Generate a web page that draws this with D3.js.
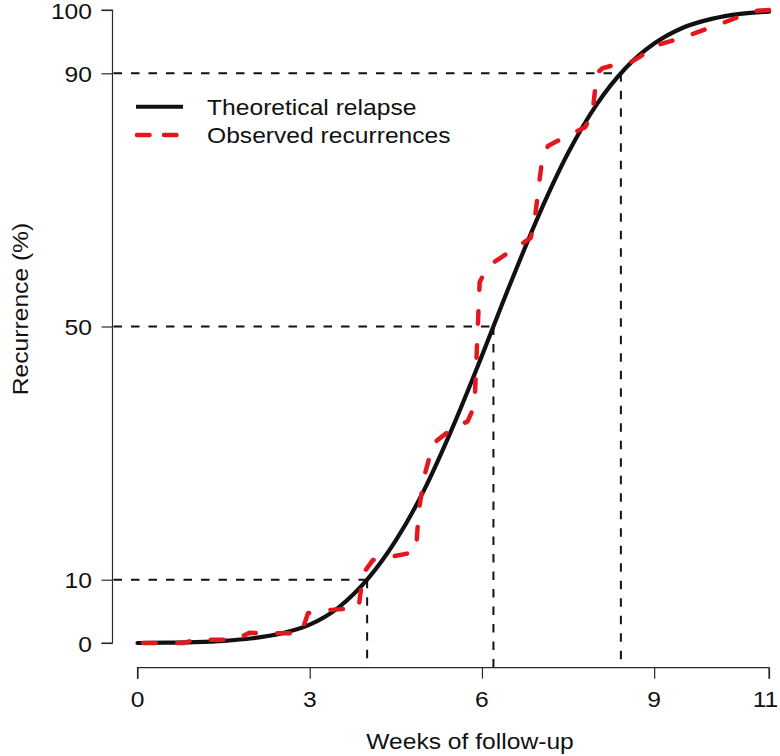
<!DOCTYPE html>
<html>
<head>
<meta charset="utf-8">
<script src="https://cdn.jsdelivr.net/npm/d3@7"></script>
<style>
  html, body { margin: 0; padding: 0; background: #fff; }
  svg { display: block; }
  text { font-family: "Liberation Sans", Arial, Helvetica, sans-serif; font-size: 22px; fill: #111; }
</style>
</head>
<body>
<svg id="chart" width="780" height="756"></svg>
<script>
// ---- data ----
const theoWeeks = [0, 0.5, 1, 1.5, 2, 2.5, 3, 3.5, 4, 4.5, 5, 5.5, 6, 6.5, 7, 7.5, 8, 8.5, 9, 9.5, 10, 10.5, 11];
const theoPct   = [0, 0.05, 0.15, 0.35, 0.75, 1.5, 2.9, 5.6, 10.0, 16.2, 24.3, 34.3, 45.4, 56.9, 67.8, 77.4, 85.1, 90.8, 94.7, 97.2, 98.6, 99.4, 99.75];

const obsWeeks = [0.1, 0.8, 1.0, 1.7, 1.95, 2.85, 2.97, 3.3, 3.85, 3.93, 4.1, 4.4, 4.85, 4.9, 5.0, 5.15, 5.5, 5.75, 5.87, 5.96, 6.1, 6.35, 6.85, 6.92, 7.05, 7.15, 7.35, 7.8, 7.93, 8.0, 8.1, 8.3, 8.6, 8.75, 9.0, 9.4, 9.7, 10.0, 10.3, 10.55, 10.8, 11.0];
const obsPct   = [0, 0, 0.5, 0.5, 1.6, 1.5, 4.7, 5.2, 5.5, 11.0, 13.1, 13.6, 14.4, 21.0, 26.5, 31.5, 34.0, 35.0, 37.5, 57.0, 59.5, 61.0, 64.0, 67.0, 76.5, 78.5, 79.5, 81.5, 84.0, 90.0, 90.8, 91.3, 91.8, 92.6, 94.3, 95.4, 96.3, 97.3, 98.3, 99.2, 99.9, 100];

const xTicks = [0, 3, 6, 9, 11];
const yTicks = [0, 10, 50, 90, 100];
const refPct   = [10, 50, 90];
const refWeeks = [4.0, 6.2, 8.42];

const legendLabels = ["Theoretical relapse", "Observed recurrences"];
const xTitle = "Weeks of follow-up";
const yTitle = "Recurrence (%)";

// ---- drawing ----
const svg = d3.select("#chart");
const x = d3.scaleLinear().domain([0, 11]).range([137.5, 769]);
const y = d3.scaleLinear().domain([0, 100]).range([643, 10]);
const axisX = 112.5, axisY = 667.7;
const red = "#e3171d";
const SX = 1.12;

function label(px, py, str, anchor, rot) {
  svg.append("g")
    .attr("transform", `translate(${px},${py}) rotate(${rot || 0}) scale(${SX},1)`)
    .append("text")
    .attr("text-anchor", anchor)
    .text(str);
}

// axes
const yAxis = d3.axisLeft(y).tickValues(yTicks).tickSize(11).tickFormat("");
svg.append("g").attr("transform", `translate(${axisX},0)`).call(yAxis)
  .call(g => { g.select(".domain").attr("d", `M-11,${y(100)}H0V${y(0)}H-11`); });
const xAxis = d3.axisBottom(x).tickValues(xTicks).tickSize(11).tickFormat("");
svg.append("g").attr("transform", `translate(0,${axisY})`).call(xAxis)
  .call(g => { g.select(".domain").attr("d", `M${x(0)},11V0H${x(11)}V11`); });
svg.selectAll(".domain, .tick line").attr("stroke", "#2a2a2a").attr("stroke-width", 1.2);

yTicks.forEach(v => label(92, y(v) + 8.6, String(v), "end"));
xTicks.forEach(v => label(Math.min(x(v), 765.5), 706.7, String(v), "middle"));
label(470, 749, xTitle, "middle");
label(28.3, 309, yTitle, "middle", -90);

// reference lines
const refG = svg.append("g").attr("stroke", "#111").attr("stroke-width", 2)
  .attr("stroke-dasharray", "8.5 9").attr("fill", "none");
refPct.forEach((p, i) => {
  refG.append("line").attr("x1", axisX + 1).attr("x2", x(refWeeks[i]))
    .attr("y1", y(p)).attr("y2", y(p));
  refG.append("line").attr("x1", x(refWeeks[i])).attr("x2", x(refWeeks[i]))
    .attr("y1", y(p)).attr("y2", axisY);
});

// theoretical curve
const theo = theoWeeks.map((w, i) => [w, theoPct[i]]);
svg.append("path").datum(theo)
  .attr("d", d3.line().x(d => x(d[0])).y(d => y(d[1])).curve(d3.curveMonotoneX))
  .attr("fill", "none").attr("stroke", "#111").attr("stroke-width", 4.2)
  .attr("stroke-linecap", "round");

// observed curve
const obs = obsWeeks.map((w, i) => [w, obsPct[i]]);
svg.append("path").datum(obs)
  .attr("d", d3.line().x(d => x(d[0])).y(d => y(d[1])))
  .attr("fill", "none").attr("stroke", red).attr("stroke-width", 4.5)
  .attr("stroke-linecap", "round").attr("stroke-linejoin", "round")
  .attr("stroke-dasharray", "12.5 21.5");

// legend
svg.append("line").attr("x1", 136).attr("x2", 183).attr("y1", 106.7).attr("y2", 106.7)
  .attr("stroke", "#111").attr("stroke-width", 4);
svg.append("line").attr("x1", 137).attr("x2", 183).attr("y1", 135).attr("y2", 135)
  .attr("stroke", red).attr("stroke-width", 4.5).attr("stroke-linecap", "round")
  .attr("stroke-dasharray", "12.5 14.5");
label(207, 115, legendLabels[0], "start");
label(207, 142.7, legendLabels[1], "start");
</script>
</body>
</html>
